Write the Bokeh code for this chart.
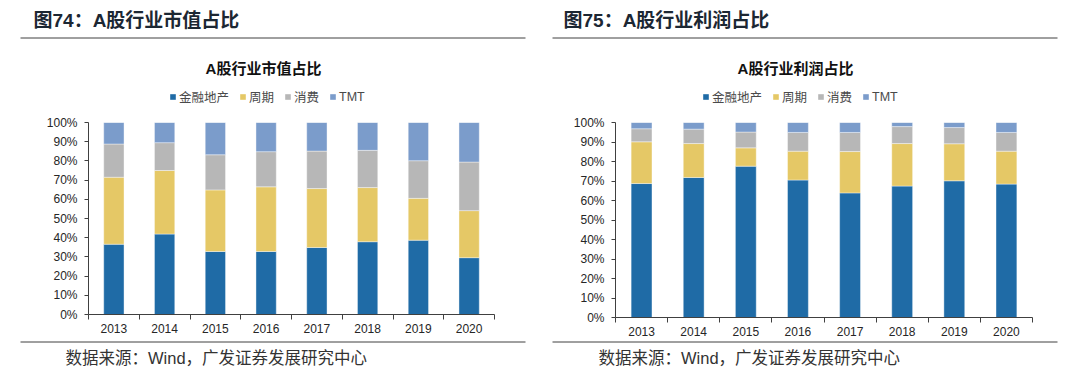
from bokeh.plotting import figure
from bokeh.layouts import row, column
from bokeh.models import (Range1d, FixedTicker, PrintfTickFormatter,
                          Legend, LegendItem, LinearAxis)
from bokeh.core.properties import value
from bokeh.embed import file_html
from bokeh.resources import INLINE

years = ["2013", "2014", "2015", "2016", "2017", "2018", "2019", "2020"]
series = ["金融地产", "周期", "消费", "TMT"]
colors = ["#1F6BA6", "#E5C866", "#B7B7B7", "#7B9CCB"]

# 图74: A股行业市值占比 (%)
mv_fin = [36.6, 41.9, 32.8, 32.8, 34.9, 37.9, 38.7, 29.6]
mv_cyc = [34.9, 33.1, 32.1, 33.7, 30.7, 28.2, 21.8, 24.5]
mv_con = [17.3, 14.5, 18.3, 18.3, 19.5, 19.4, 19.6, 25.3]
mv_tmt = [11.2, 10.5, 16.8, 15.2, 14.9, 14.5, 19.9, 20.6]

# 图75: A股行业利润占比 (%)
pf_fin = [68.7, 71.8, 77.6, 70.5, 63.9, 67.4, 70.1, 68.4]
pf_cyc = [21.4, 17.4, 9.4, 14.8, 21.2, 21.8, 19.0, 16.9]
pf_con = [6.7, 7.4, 8.1, 9.6, 9.8, 8.7, 8.3, 9.6]
pf_tmt = [3.2, 3.4, 4.9, 5.1, 5.1, 2.1, 2.6, 5.1]

y_ticks = [0, 10, 20, 30, 40, 50, 60, 70, 80, 90, 100]
source_note = "数据来源：Wind，广发证券发展研究中心"

FONT = "Liberation Sans, Noto Sans CJK SC"
W = 540
HEAD_H, CHART_TOP, CHART_BOT, H = 110, 110, 340, 376


def deco_fig(h):
    f = figure(width=W, height=h, output_backend="svg", toolbar_location=None, tools="",
               x_range=Range1d(0, W), y_range=Range1d(h, 0),
               min_border=0, x_axis_location=None, y_axis_location=None,
               frame_align=False)
    f.outline_line_color = None
    f.grid.visible = False
    f.background_fill_color = "white"
    f.border_fill_color = "white"
    return f


def txt(f, X, Y, text, size, bold, color, align):
    f.text(x=[X], y=[Y], text=[text], text_font=value(FONT), text_font_size=value(f"{size}px"),
           text_font_style="bold" if bold else "normal", text_color=color,
           text_align=align, text_baseline="middle")


def make_panel(header, title, vals, fl, fr, fb, hx, rx0, rx1, tx, lx, fx):
    # header: figure caption, rule, chart title, legend
    hp = deco_fig(HEAD_H)
    txt(hp, hx, 20, header, 19, True, "#1C2733", "left")
    hp.segment(x0=[rx0], y0=[37.5], x1=[rx1], y1=[37.5], line_color="#404040", line_width=1)
    txt(hp, tx, 68, title, 15, True, "#111111", "center")
    # legend keys (hidden proxies placed outside the visible header range)
    keys = [hp.rect(x=[-100], y=[-100], width=1, height=1, color=c, line_color=None)
            for c in colors]
    legend = Legend(items=[LegendItem(label=s, renderers=[r]) for s, r in zip(series, keys)],
                    orientation="horizontal", location=(lx, HEAD_H - 106),
                    glyph_width=7, glyph_height=7, label_standoff=3, spacing=10,
                    padding=0, margin=0, background_fill_alpha=0, border_line_color=None,
                    label_text_font=FONT, label_text_font_size="12.5px",
                    label_height=12, label_text_color="#4A4A4A")
    hp.add_layout(legend, "center")

    # chart
    ch = CHART_BOT - CHART_TOP
    p = figure(width=W, height=ch, output_backend="svg", toolbar_location=None, tools="",
               x_range=Range1d(0, len(years)), y_range=Range1d(0, 100),
               min_border_left=fl, min_border_right=W - fr,
               min_border_top=122 - CHART_TOP, min_border_bottom=CHART_BOT - fb,
               x_axis_location=None, y_axis_location=None, frame_align=False)
    p.outline_line_color = None
    p.grid.visible = False
    p.background_fill_color = "white"
    p.border_fill_color = "white"

    xs = [i + 0.5 for i in range(len(years))]
    src = {"x": xs}
    for s, v in zip(series, vals):
        src[s] = v
    p.vbar_stack(series, x="x", width=0.4, color=colors, source=src,
                 line_color="white", line_width=0.4)

    yax = LinearAxis(ticker=FixedTicker(ticks=y_ticks),
                     formatter=PrintfTickFormatter(format="%d%%"))
    yax.axis_line_color = "#404040"
    yax.major_tick_line_color = "#404040"
    yax.major_tick_out = 4
    yax.major_tick_in = 0
    yax.minor_tick_line_color = None
    yax.major_label_standoff = 7
    yax.major_label_text_font = FONT
    yax.major_label_text_font_size = "12px"
    yax.major_label_text_color = "#262626"
    p.add_layout(yax, "left")

    xax = LinearAxis(ticker=FixedTicker(ticks=xs, minor_ticks=list(range(len(years) + 1))))
    xax.major_label_overrides = {x: y for x, y in zip(xs, years)}
    xax.axis_line_color = "#404040"
    xax.major_tick_line_color = None
    xax.major_tick_out = 0
    xax.major_tick_in = 0
    xax.minor_tick_line_color = "#404040"
    xax.minor_tick_out = 5
    xax.minor_tick_in = 0
    xax.major_label_standoff = 4
    xax.major_label_text_font = FONT
    xax.major_label_text_font_size = "12px"
    xax.major_label_text_color = "#262626"
    p.add_layout(xax, "below")

    # footer: rule and source
    fp = deco_fig(H - CHART_BOT)
    fp.segment(x0=[rx0], y0=[1.5], x1=[rx1], y1=[1.5], line_color="#404040", line_width=1)
    txt(fp, fx, 357 - CHART_BOT, source_note, 16.5, False, "#333333", "left")

    return column(hp, p, fp, spacing=0)


c1 = make_panel("图74：A股行业市值占比", "A股行业市值占比",
                [mv_fin, mv_cyc, mv_con, mv_tmt],
                88, 494, 314, 33, 20, 525, 263, 169, 65)
c2 = make_panel("图75：A股行业利润占比", "A股行业利润占比",
                [pf_fin, pf_cyc, pf_con, pf_tmt],
                75, 492, 317, 23, 12, 517, 255, 162, 58)

layout = row(c1, c2, spacing=0)
open("out.html", "w").write(file_html(layout, INLINE))
